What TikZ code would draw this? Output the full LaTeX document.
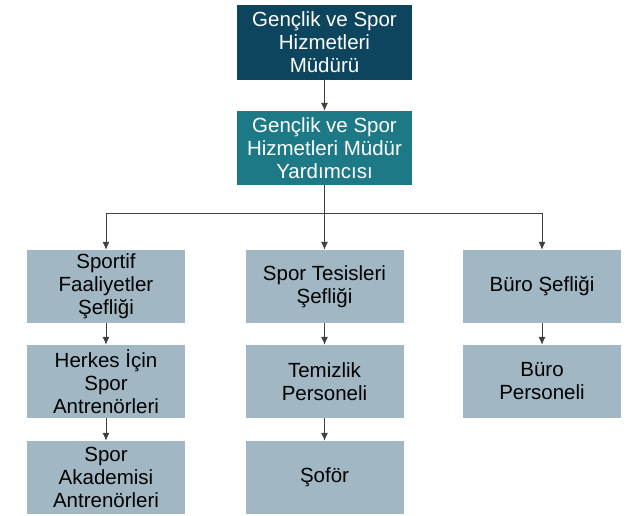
\documentclass[tikz,border=0pt]{standalone}
\usepackage{fontspec}
\setmainfont{Liberation Sans}
\usepackage{xcolor}
\usetikzlibrary{arrows.meta}

\definecolor{mudurblue}{RGB}{14,69,94}
\definecolor{yardteal}{RGB}{30,121,134}
\definecolor{birimgray}{RGB}{161,183,196}

\tikzset{
  kutu/.style={rectangle, inner sep=0pt, align=center,
    font=\fontsize{20.5}{23}\selectfont},
  ustkutu/.style={kutu, fill=mudurblue, text=white,
    minimum width=175, minimum height=75},
  yardkutu/.style={kutu, fill=yardteal, text=white,
    minimum width=175, minimum height=74},
  birim/.style={kutu, fill=birimgray, text=black,
    minimum width=158, minimum height=73},
  ok/.style={draw=black!75, line width=1pt, -{Latex[length=8pt,width=7pt]}},
  hat/.style={draw=black!75, line width=1pt}
}

\begin{document}
\begin{tikzpicture}[x=1pt,y=-1pt]
\useasboundingbox (0,0) rectangle (644,515);
\fill[white] (0,0) rectangle (644,515);

% ust yonetim
\node[ustkutu] (mudur) at (324.5,42.5) {Gençlik ve Spor\\Hizmetleri\\Müdürü};
\node[yardkutu] (yard) at (324.5,148) {Gençlik ve Spor\\Hizmetleri Müdür\\Yardımcısı};

% sefliklar
\node[birim] (sportif) at (106,286.5) {Sportif\\Faaliyetler\\Şefliği};
\node[birim] (tesis) at (324.5,286.5) {Spor Tesisleri\\Şefliği};
\node[birim] (buro) at (542,286.5) {Büro Şefliği};

% personel
\node[birim] (herkes) at (106,381.5) {Herkes İçin\\Spor\\Antrenörleri};
\node[birim] (akademi) at (106,477.5) {Spor\\Akademisi\\Antrenörleri};
\node[birim] (temizlik) at (324.5,381.5) {Temizlik\\Personeli};
\node[birim] (sofor) at (324.5,477.5) {Şoför};
\node[birim] (buroper) at (542,381.5) {Büro\\Personeli};

% baglantilar
\coordinate (bus) at (324.5,213);
\draw[ok] (mudur) -- (yard);
\draw[hat] (yard) -- (bus);
\draw[ok] (bus) -| (sportif);
\draw[ok] (bus) -| (buro);
\draw[ok] (bus) -- (tesis);
\draw[ok] (sportif) -- (herkes);
\draw[ok] (herkes) -- (akademi);
\draw[ok] (tesis) -- (temizlik);
\draw[ok] (temizlik) -- (sofor);
\draw[ok] (buro) -- (buroper);
\end{tikzpicture}
\end{document}
